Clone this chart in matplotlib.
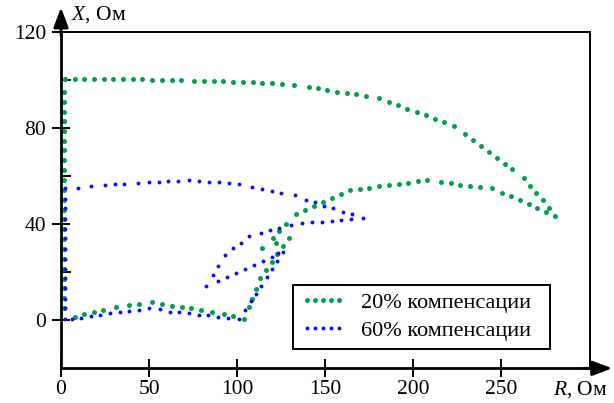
import matplotlib
matplotlib.use("Agg")
import matplotlib.pyplot as plt
from matplotlib.ticker import FixedLocator

plt.rcParams['font.family'] = 'serif'
plt.rcParams['font.serif'] = ['Liberation Serif', 'DejaVu Serif']
plt.rcParams['mathtext.fontset'] = 'custom'
plt.rcParams['mathtext.it'] = 'Liberation Serif:italic'
plt.rcParams['mathtext.rm'] = 'Liberation Serif'

# ---- data: 20% compensation (green) ----
g_R = [1.5]*23 + [
    2.3, 7.8, 13.2, 18.7, 24.3, 29.7, 35.2, 40.7, 46.2, 51.7, 57.2, 62.9, 68.3, 75.7,
    81.2, 86.7, 92.1, 97.8, 103.4, 108.9, 114.3, 119.8, 125.3, 132.5, 140.5, 145.9,
    151.2, 156.7, 162.2, 167.7, 173.2, 180.7, 186.4, 191.5, 196.6, 201.9, 207.0, 212.3,
    217.4, 223.1, 229.5, 234.0, 238.4, 242.9, 247.3, 251.8, 256.2, 262.6, 266.2, 269.8,
    273.4, 276.8, 280.6,
    275.4, 270.3, 265.4, 260.3, 255.2, 250.3, 244.9, 237.6, 232.1, 226.6, 221.1, 215.6,
    208.0, 202.6, 197.1, 191.6, 186.1, 180.6, 175.1, 169.6, 164.1, 159.0, 153.9, 148.8,
    143.8, 138.7, 133.6, 127.9, 124.0, 120.2, 114.3,
    129.3, 125.9, 122.1, 122.8, 119.6, 116.4, 113.2, 110.6, 108.6, 106.8, 104.1,
    97.7, 92.3, 85.5, 79.5, 74.0, 68.5, 63.0, 57.5, 51.5, 44.1, 38.4, 31.0, 24.0,
    18.5, 13.2, 8.0]
g_X = [5.0, 9.1, 13.2, 17.3, 21.4, 25.5, 29.6, 33.7, 37.8, 41.9, 46.0, 50.1, 54.2,
       58.3, 62.4, 66.6, 70.6, 74.6, 78.7, 82.7, 86.7, 90.7, 95.0] + [
    100.4, 100.4, 100.4, 100.4, 100.3, 100.3, 100.3, 100.2, 100.2, 100.0, 100.0, 99.9,
    99.9, 99.7, 99.6, 99.5, 99.3, 99.2, 99.0, 98.9, 98.8, 98.6, 98.3, 97.8, 97.1, 96.4,
    95.7, 95.0, 94.5, 93.9, 93.4, 92.4, 90.9, 89.4, 88.0, 86.6, 85.3, 83.7, 82.3, 80.8,
    77.3, 74.8, 72.3, 70.0, 67.5, 65.1, 62.7, 59.1, 55.9, 52.8, 49.8, 46.7, 43.4,
    45.1, 46.7, 48.3, 49.9, 51.6, 53.1, 54.8, 55.3, 55.9, 56.4, 56.9, 57.4,
    58.3, 57.7, 57.2, 56.6, 56.2, 55.7, 55.1, 54.7, 54.1, 52.3, 50.8, 49.1,
    47.4, 45.8, 44.1, 40.0, 37.0, 34.1, 30.0,
    34.2, 30.8, 32.0, 27.5, 24.1, 20.9, 17.5, 12.8, 9.0, 5.3, 0.4,
    1.6, 2.5, 3.6, 4.2, 4.9, 5.4, 6.0, 6.7, 7.4, 6.7, 6.2, 5.5, 4.3,
    3.3, 2.4, 1.4]

# ---- data: 60% compensation (blue) ----
b_R = [2.0]*14 + [
    9.7, 17.0, 24.8, 30.5, 35.9, 43.9, 50.0, 55.5, 60.9, 66.4, 72.5, 78.6, 84.1, 89.6,
    95.1, 101.0, 108.6, 114.1, 119.6, 124.9, 132.9, 139.0, 144.2, 149.5, 154.6, 160.0,
    165.2, 171.3,
    164.5, 159.2, 153.7, 148.0, 142.5, 137.0, 130.4, 124.0, 118.7, 113.4, 106.9, 102.2,
    97.7, 92.9, 89.2, 86.3, 82.2,
    89.3, 94.3, 99.4, 104.5, 109.6, 114.7, 119.8, 123.0,
    126.2, 122.8, 119.8, 116.8, 113.7, 110.6, 107.9, 104.7, 101.1,
    94.7, 89.2, 83.7, 78.2, 72.9, 67.2, 61.7, 56.2, 49.8, 44.3, 38.8, 33.3, 27.8,
    22.3, 16.9, 11.4, 6.1]
b_X = [0.7, 4.9, 9.0, 13.2, 17.4, 21.5, 25.6, 29.8, 34.0, 38.1, 42.3, 46.5, 50.6,
       54.8] + [
    55.1, 55.9, 56.3, 56.6, 56.7, 57.1, 57.3, 57.6, 57.8, 58.1, 58.4, 58.0, 57.6, 57.3,
    56.9, 56.5, 55.3, 54.5, 53.7, 52.8, 51.9, 50.2, 49.0, 47.7, 46.5, 45.2,
    44.0, 42.4,
    42.0, 41.7, 41.3, 40.9, 40.8, 40.5, 39.8, 38.4, 37.4, 36.2, 35.0, 32.2,
    29.9, 27.1, 22.5, 19.0, 14.3,
    16.5, 18.0, 19.7, 21.5, 22.9, 24.7, 26.2, 27.9,
    28.4, 24.6, 21.3, 17.9, 14.4, 11.1, 7.9, 4.3, 0.5,
    1.1, 1.5, 2.1, 2.2, 2.8, 3.5, 3.5, 4.6, 5.1, 4.4, 4.0, 3.5, 2.9,
    2.2, 1.7, 1.1, 0.7]

labels = ['20% компенсации', '60% компенсации']
x_ticks = [0, 50, 100, 150, 200, 250]
y_ticks = [0, 40, 80, 120]
y_minor = [20, 60, 100]

GREEN = '#00a04c'
BLUE = '#0a0aff'

fig = plt.figure(figsize=(6.14, 4.03), dpi=100)
ax = fig.add_axes([61/614, 1-368.3/403, 528.5/614, 336.6/403])

ax.plot(g_R, g_X, linestyle='none', marker='o', markersize=3.6,
        color=GREEN, markeredgewidth=0, label=labels[0])
ax.plot(b_R, b_X, linestyle='none', marker='o', markersize=2.8,
        color=BLUE, markeredgewidth=0, label=labels[1])

ax.set_xlim(0, 300)
ax.set_ylim(-20, 120)
ax.xaxis.set_major_locator(FixedLocator(x_ticks))
ax.yaxis.set_major_locator(FixedLocator(y_ticks))
ax.yaxis.set_minor_locator(FixedLocator(y_minor))

for s in ['left', 'bottom']:
    ax.spines[s].set_linewidth(2.0)
for s in ['top', 'right']:
    ax.spines[s].set_linewidth(1.4)

ax.tick_params(axis='both', which='major', direction='inout', length=12.5,
               width=1.4, labelsize=15.5)
ax.tick_params(axis='y', which='major', pad=4.5)
ax.tick_params(axis='x', which='major', pad=2)
ax.tick_params(axis='y', which='minor', direction='in', length=7, width=1.4)

# axis arrows
ax.annotate('', xy=(0, 1.072), xycoords='axes fraction', xytext=(0, 0.99),
            textcoords='axes fraction',
            arrowprops=dict(arrowstyle='-|>,head_length=0.8,head_width=0.3',
                            lw=2, color='black', shrinkA=0, shrinkB=0,
                            mutation_scale=15))
ax.annotate('', xy=(1.043, 0), xycoords='axes fraction', xytext=(0.99, 0),
            textcoords='axes fraction',
            arrowprops=dict(arrowstyle='-|>,head_length=0.8,head_width=0.3',
                            lw=2, color='black', shrinkA=0, shrinkB=0,
                            mutation_scale=15))

fig.text(71/614, 1-15/403, '$X$, Ом', fontsize=15.5, ha='left', va='center')
fig.text(553/614, 1-390/403, '$R$, Ом', fontsize=15.5, ha='left', va='center')

leg = ax.legend(loc='lower left',
                bbox_to_anchor=((293-61)/528.5, (368.3-349)/336.6,
                                (550-293)/528.5, (349-283)/336.6),
                mode='expand', fontsize=16, numpoints=5, handlelength=2.0,
                handletextpad=0.7, borderpad=0.35, labelspacing=0.35,
                borderaxespad=0, fancybox=False, framealpha=1,
                edgecolor='black', markerscale=1.0)
leg.get_frame().set_linewidth(1.4)

fig.savefig('out.png', dpi=100)
